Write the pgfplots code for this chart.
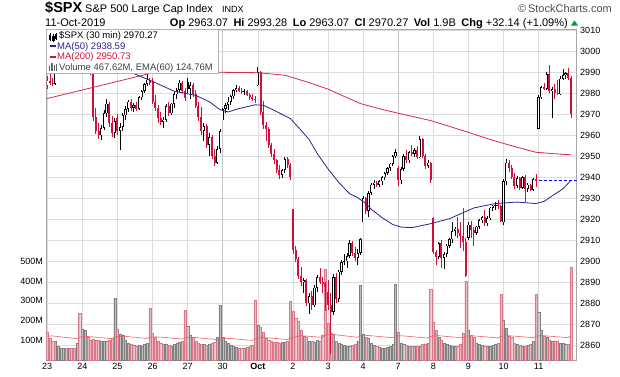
\documentclass[border=0pt]{standalone}
\usepackage{pgfplots}
\pgfplotsset{compat=1.18}
\usepackage{pgfplotstable}
\usepackage{fontspec}
\setmainfont{Liberation Sans}
\definecolor{cred}{RGB}{210,16,60}
\definecolor{navy}{RGB}{36,36,140}
\definecolor{mared}{RGB}{214,40,74}
\definecolor{vpink}{RGB}{238,182,190}
\definecolor{vpinkd}{RGB}{216,120,136}
\definecolor{vgray}{RGB}{190,190,190}
\definecolor{vgrayd}{RGB}{128,128,128}
\definecolor{gridc}{RGB}{221,221,221}
\definecolor{emac}{RGB}{242,96,96}
\definecolor{upgreen}{RGB}{0,150,60}

% bar index, open, high, low, close, volume (millions), red flag
\pgfplotstableread{
x o h l c v r
0 2983.5 2988.0 2982.2 2986.0 143 1
1 2986.0 2989.0 2984.0 2985.0 112 1
2 2985.0 2987.5 2983.5 2984.5 98 1
3 2984.5 2991.5 2984.0 2990.5 93 0
4 2990.5 2995.0 2990.0 2994.0 68 0
5 2994.0 2997.5 2993.0 2996.5 62 0
6 2996.5 2999.2 2995.5 2998.0 60 0
7 2998.0 2998.5 2994.5 2995.0 60 1
8 2995.0 2997.0 2993.0 2996.0 58 0
9 2996.0 2996.5 2992.5 2993.0 62 1
10 2993.0 2994.5 2991.0 2992.0 62 1
11 2992.0 2994.0 2990.5 2993.5 85 0
12 2993.5 2994.5 2990.8 2991.8 236 1
13 3002.4 3005.5 3000.0 3004.5 155 0
14 3004.5 3008.0 3002.0 3006.0 152 0
15 3006.0 3007.0 2996.0 2998.0 118 1
16 2998.0 3000.0 2988.5 2990.0 101 1
17 2990.0 2991.0 2967.0 2968.5 105 1
18 2968.5 2973.0 2960.5 2962.0 101 1
19 2962.0 2966.0 2958.0 2960.0 100 1
20 2960.0 2965.0 2957.7 2963.5 98 0
21 2963.5 2972.0 2962.5 2970.5 95 0
22 2970.5 2977.5 2968.5 2975.0 95 0
23 2975.0 2976.0 2964.0 2966.0 100 1
24 2966.0 2969.0 2959.0 2961.0 110 1
25 2961.0 2968.0 2958.5 2966.6 312 0
26 2968.4 2970.0 2960.0 2962.0 157 1
27 2962.0 2966.0 2952.9 2964.0 132 0
28 2964.0 2970.5 2962.0 2969.5 127 0
29 2969.5 2974.0 2967.5 2972.5 100 0
30 2972.5 2977.0 2971.0 2976.0 85 0
31 2976.0 2977.5 2971.5 2973.0 80 1
32 2973.0 2975.5 2971.0 2974.5 75 0
33 2974.5 2976.0 2971.5 2972.5 72 1
34 2972.5 2978.5 2972.0 2978.0 75 0
35 2978.0 2981.5 2977.0 2981.0 72 0
36 2981.0 2985.0 2980.0 2984.5 82 0
37 2984.5 2989.8 2983.5 2986.5 85 0
38 2986.5 2987.5 2983.8 2984.9 262 1
39 2985.7 2987.3 2975.0 2976.0 135 1
40 2976.0 2979.0 2971.5 2973.0 115 1
41 2973.0 2974.5 2966.0 2968.0 95 1
42 2968.0 2971.0 2965.0 2966.5 85 1
43 2966.5 2968.5 2963.7 2967.5 80 0
44 2967.5 2975.0 2966.5 2974.0 82 0
45 2974.0 2976.0 2969.0 2970.5 75 1
46 2970.5 2975.5 2969.5 2975.0 72 0
47 2975.0 2980.5 2973.0 2979.5 78 0
48 2979.5 2982.5 2977.5 2981.5 85 0
49 2981.5 2986.5 2980.5 2985.0 90 0
50 2985.0 2986.0 2980.0 2981.0 95 1
51 2981.0 2982.5 2976.5 2977.6 253 1
52 2985.5 2987.3 2980.0 2982.0 172 0
53 2982.0 2985.5 2977.5 2984.0 127 0
54 2984.0 2985.0 2978.0 2979.5 115 1
55 2979.5 2981.5 2973.0 2974.0 95 1
56 2974.0 2976.0 2967.0 2968.5 85 1
57 2968.5 2973.5 2960.0 2962.0 80 1
58 2962.0 2966.0 2957.5 2964.5 78 0
59 2964.5 2965.5 2954.0 2955.5 75 1
60 2955.5 2961.0 2950.0 2959.0 78 0
61 2959.0 2960.0 2948.5 2950.0 85 1
62 2950.0 2953.5 2945.5 2947.0 90 1
63 2947.0 2955.0 2946.5 2953.5 115 0
64 2953.5 2963.0 2951.5 2961.8 279 0
65 2967.1 2973.0 2967.1 2972.5 115 0
66 2972.5 2975.5 2970.5 2974.5 93 0
67 2974.5 2978.0 2972.0 2976.0 84 0
68 2976.0 2979.0 2974.5 2978.5 75 0
69 2978.5 2982.0 2977.5 2981.5 68 0
70 2981.5 2983.9 2980.5 2982.5 65 0
71 2982.5 2983.5 2980.5 2981.0 62 1
72 2981.0 2982.5 2979.5 2980.5 60 1
73 2980.5 2982.0 2979.0 2981.0 60 0
74 2981.0 2981.5 2978.5 2979.0 65 1
75 2979.0 2980.0 2977.0 2978.0 68 1
76 2978.0 2979.5 2976.5 2977.5 75 1
77 2977.5 2978.5 2975.5 2976.7 304 1
78 2983.7 2992.5 2983.5 2990.0 177 0
79 2990.0 2990.5 2969.5 2971.0 165 1
80 2971.0 2976.5 2963.0 2965.0 143 1
81 2965.0 2966.5 2957.5 2963.0 110 1
82 2963.0 2964.0 2954.0 2955.5 100 1
83 2955.5 2956.5 2949.5 2951.0 95 1
84 2951.0 2953.5 2946.5 2948.0 90 1
85 2948.0 2948.5 2942.0 2943.5 88 1
86 2943.5 2946.0 2939.0 2941.0 85 1
87 2941.0 2944.0 2939.5 2943.5 88 0
88 2943.5 2949.5 2942.0 2948.5 90 0
89 2948.5 2949.5 2944.5 2946.0 95 1
90 2946.0 2947.0 2938.7 2940.3 296 1
91 2924.8 2924.8 2903.5 2905.5 248 1
92 2905.5 2907.5 2899.5 2901.0 211 1
93 2901.0 2902.0 2891.5 2893.0 199 1
94 2893.0 2897.5 2888.0 2890.0 152 1
95 2890.0 2892.0 2885.0 2891.0 122 0
96 2891.0 2891.5 2878.5 2880.0 115 1
97 2880.0 2885.0 2874.9 2883.5 93 0
98 2883.5 2886.0 2877.0 2879.0 93 1
99 2879.0 2888.5 2878.0 2887.5 88 0
100 2887.5 2893.5 2885.5 2892.5 101 0
101 2892.5 2897.0 2889.0 2890.0 98 1
102 2890.0 2892.5 2885.0 2889.0 127 1
103 2889.0 2890.0 2876.5 2887.6 461 1
104 2885.4 2891.0 2877.0 2879.0 189 1
105 2879.0 2885.0 2855.9 2876.0 138 1
106 2876.0 2894.0 2874.5 2892.5 132 0
107 2892.5 2894.5 2880.0 2882.0 93 1
108 2882.0 2896.0 2880.5 2895.0 84 0
109 2895.0 2900.5 2893.5 2899.5 80 0
110 2899.5 2903.5 2898.0 2900.0 75 0
111 2900.0 2904.0 2897.0 2902.5 72 0
112 2902.5 2910.0 2901.5 2908.5 72 0
113 2908.5 2909.5 2902.5 2904.0 75 1
114 2904.0 2907.0 2900.0 2901.5 80 1
115 2901.5 2906.0 2898.0 2904.0 93 0
116 2904.0 2911.1 2903.0 2910.6 380 0
117 2918.6 2931.0 2918.6 2930.0 130 0
118 2930.0 2930.5 2922.5 2924.0 115 1
119 2924.0 2933.5 2921.0 2932.5 110 0
120 2932.5 2937.5 2931.5 2936.5 84 0
121 2936.5 2938.5 2934.5 2937.5 75 0
122 2937.5 2938.0 2935.5 2936.5 70 1
123 2936.5 2938.5 2935.5 2938.0 65 0
124 2938.0 2940.5 2936.5 2940.0 62 0
125 2940.0 2942.5 2938.5 2942.0 60 0
126 2942.0 2945.0 2941.0 2944.5 65 0
127 2944.5 2947.0 2943.0 2946.5 68 0
128 2946.5 2950.5 2945.5 2950.0 82 0
129 2950.0 2953.7 2949.0 2952.0 385 0
130 2944.2 2945.5 2935.7 2938.5 143 1
131 2938.5 2945.0 2937.0 2944.0 84 0
132 2944.0 2951.0 2943.0 2950.0 80 0
133 2950.0 2953.0 2947.0 2948.0 75 1
134 2948.0 2952.5 2947.0 2952.0 72 0
135 2952.0 2955.5 2950.0 2951.0 70 1
136 2951.0 2954.0 2949.5 2953.0 68 0
137 2953.0 2955.0 2948.5 2949.5 70 1
138 2949.5 2959.8 2949.0 2958.0 72 0
139 2958.0 2958.5 2949.0 2950.0 78 1
140 2950.0 2951.0 2944.0 2945.5 82 1
141 2945.5 2948.0 2944.5 2947.0 85 0
142 2947.0 2947.5 2937.5 2938.8 358 1
143 2920.4 2921.0 2903.5 2904.5 194 1
144 2904.5 2905.5 2898.0 2902.0 152 1
145 2902.0 2909.0 2901.0 2908.5 115 0
146 2908.5 2910.0 2897.0 2901.5 100 1
147 2901.5 2904.5 2896.5 2903.5 84 0
148 2903.5 2908.0 2902.0 2907.5 80 0
149 2907.5 2911.0 2906.5 2910.5 75 0
150 2910.5 2918.7 2908.5 2914.5 72 0
151 2914.5 2916.5 2912.0 2915.5 70 0
152 2915.5 2921.0 2911.0 2913.5 72 1
153 2913.5 2918.5 2906.5 2912.0 80 1
154 2912.0 2925.5 2905.0 2909.0 138 1
155 2909.0 2911.0 2892.7 2893.1 400 1
156 2911.1 2918.5 2910.0 2917.5 152 0
157 2917.5 2919.0 2911.0 2915.0 127 1
158 2915.0 2916.5 2907.4 2913.5 115 1
159 2913.5 2917.0 2912.5 2916.5 84 0
160 2916.5 2920.0 2915.5 2919.5 80 0
161 2919.5 2921.5 2918.0 2921.0 75 0
162 2921.0 2924.3 2917.0 2918.0 72 1
163 2918.0 2921.5 2917.0 2920.5 70 0
164 2920.5 2926.0 2919.5 2925.5 72 0
165 2925.5 2927.0 2924.0 2926.5 75 0
166 2926.5 2928.0 2924.5 2927.0 78 0
167 2927.0 2929.3 2925.0 2926.5 85 1
168 2926.5 2927.0 2918.5 2919.4 334 1
169 2918.6 2939.0 2917.1 2938.0 203 0
170 2938.0 2948.5 2936.5 2947.0 160 0
171 2947.0 2948.0 2942.5 2944.5 122 1
172 2944.5 2946.0 2939.0 2940.0 115 1
173 2940.0 2942.0 2934.5 2936.0 84 1
174 2936.0 2940.5 2935.0 2939.5 80 0
175 2939.5 2940.0 2933.8 2935.0 75 1
176 2935.0 2940.5 2934.5 2940.0 72 0
177 2940.0 2941.0 2928.3 2934.5 72 1
178 2934.5 2937.5 2933.0 2936.5 75 0
179 2936.5 2937.0 2933.5 2934.0 80 1
180 2934.0 2939.5 2933.5 2939.0 95 0
181 2939.0 2941.5 2935.5 2938.1 334 1
182 2963.1 2979.0 2963.1 2978.0 240 0
183 2978.0 2983.5 2977.5 2983.0 149 0
184 2983.0 2985.0 2981.5 2982.0 122 1
185 2982.0 2990.0 2981.5 2989.0 118 0
186 2989.0 2993.3 2980.0 2981.0 101 1
187 2981.0 2983.0 2968.0 2982.0 98 0
188 2982.0 2984.5 2977.5 2980.0 98 1
189 2980.0 2986.5 2979.0 2979.5 98 1
190 2979.5 2988.0 2979.0 2987.0 84 0
191 2987.0 2991.5 2986.5 2988.5 84 0
192 2988.5 2990.0 2987.0 2989.5 80 0
193 2989.5 2991.8 2986.5 2987.5 78 1
194 2987.5 2988.0 2968.0 2970.3 468 1
}\spx

\pgfplotstableread{
x y
-0.3 2996
10 2997
20 2995
28 2992
32 2989.4
38 2986.2
47 2981.0
55 2979.0
60 2976.0
64 2972.2
67 2971.1
71 2972.7
77 2974.5
80 2974.3
84 2971.9
90 2968.0
94 2962.4
97 2958.0
100 2951.3
104 2944.0
108 2937.5
112 2932.2
115 2930.3
118 2927.5
120 2924.8
124 2920.8
128 2917.5
131 2916.3
135 2916.0
142 2917.9
149 2920.3
158 2925.4
166 2927.5
174 2928.2
181 2927.5
184 2928.5
188 2932.0
191 2934.5
194 2938.6
}\mafifty

\pgfplotstableread{
x y
-0.3 2977.4
38 2989.4
50 2990.0
63 2990.0
78 2989.8
88 2988.6
96 2985.5
104 2982.0
110 2978.5
116 2975.1
124 2972.3
131 2970.2
142 2967.0
150 2963.8
156 2961.4
164 2958.0
172 2955.0
181 2951.9
188 2951.2
194 2950.7
}\matwohundred

\pgfplotstableread{
x y
0 121
2 122
11 108
12 115
13 118
15 119
24 108
25 114
26 119
28 121
37 109
38 114
39 116
41 117
50 106
51 111
52 114
54 115
63 103
64 109
65 110
67 110
76 99
77 106
78 111
80 114
89 104
90 110
91 115
94 123
102 115
103 126
104 128
106 129
115 115
116 124
117 125
119 124
128 113
129 122
130 123
132 122
141 111
142 119
143 122
145 123
154 112
155 121
156 122
158 122
167 112
168 119
169 122
171 123
180 113
181 120
182 123
184 123
193 113
194 124.8
}\emavol

\pgfplotsset{
  frame/.style={at={(46.5pt,16pt)}, anchor=south west, scale only axis,
    width=530.2pt, height=331pt, xmin=-0.26, xmax=196.1},
  candle/.style={draw=none, no markers, forget plot,
    error bars/y dir=plus, error bars/y explicit, error bars/error mark=none,
    error bars/error bar style={#1}},
}
\newcommand{\tf}{\fontsize{9}{10}\selectfont}
\newcommand{\lf}{\fontsize{9.5}{11}\selectfont}

\begin{document}
\begin{tikzpicture}
\useasboundingbox (0,0) rectangle (620pt,376pt);
% grid, frame and price/date ticks
\begin{axis}[frame, ymin=2853, ymax=3010.6,
  xtick={0,13,...,182},
  xticklabels={23,24,25,26,27,30,\textbf{Oct},2,3,4,7,8,9,10,11},
  ytick={2860,2870,...,3010},
  yticklabels={2860,2870,2880,2890,2900,2910,2920,2930,2940,2950,2960,2970,2980,2990,3000,3010},
  yticklabel pos=right,
  major tick length=0pt,
  tick label style={font=\tf, text=black},
  grid=major, major grid style={draw=gridc, line width=0.6pt},
  axis line style={draw=black!35, line width=0.6pt},
  extra x ticks={65,130}, extra x tick labels={},
  extra x tick style={grid=major, major grid style={draw=black!22, line width=0.8pt}},
]
\end{axis}
% volume
\begin{axis}[frame, ymin=0, ymax=1676,
  axis x line=none, axis y line*=left, y axis line style={draw=none},
  ytick={100,200,300,400,500}, yticklabels={100M,200M,300M,400M,500M},
  major tick length=0pt, tick label style={font=\tf, text=black}]
\addplot[ybar, bar width=2.1pt, bar shift=0pt, fill=vgray, draw=vgrayd, line width=0.3pt,
  restrict expr to domain={\thisrow{r}}{-0.5:0.5}] table[x=x, y=v] {\spx};
\addplot[ybar, bar width=2.1pt, bar shift=0pt, fill=vpink, draw=vpinkd, line width=0.3pt,
  restrict expr to domain={\thisrow{r}}{0.5:1.5}] table[x=x, y=v] {\spx};
\addplot[emac, line width=0.6pt, mark=none] table[x=x, y=y] {\emavol};
\end{axis}
% price
\begin{axis}[frame, ymin=2853, ymax=3010.6, hide axis]
% wicks
\addplot[restrict expr to domain={\thisrow{r}}{-0.5:0.5}, candle={line width=0.7pt, draw=black}]
  table[x=x, y=l, y error plus expr={\thisrow{h}-\thisrow{l}}] {\spx};
\addplot[restrict expr to domain={\thisrow{r}}{0.5:1.5}, candle={line width=0.7pt, draw=cred}]
  table[x=x, y=l, y error plus expr={\thisrow{h}-\thisrow{l}}] {\spx};
% filled bodies (close below open)
\addplot[restrict expr to domain={2*\thisrow{r}+((\thisrow{c})>(\thisrow{o}))}{-0.5:0.5}, candle={line width=2pt, draw=black}]
  table[x=x, y=c, y error plus expr={max(\thisrow{o}-\thisrow{c},0.45)}] {\spx};
\addplot[restrict expr to domain={2*\thisrow{r}+((\thisrow{c})>(\thisrow{o}))}{1.5:2.5}, candle={line width=2pt, draw=cred}]
  table[x=x, y=c, y error plus expr={max(\thisrow{o}-\thisrow{c},0.45)}] {\spx};
% hollow bodies (close above open)
\addplot[restrict expr to domain={2*\thisrow{r}+((\thisrow{c})>(\thisrow{o}))}{0.5:1.5}, candle={line width=2.3pt, draw=black}]
  table[x=x, y=o, y error plus expr={\thisrow{c}-\thisrow{o}}] {\spx};
\addplot[restrict expr to domain={2*\thisrow{r}+((\thisrow{c})>(\thisrow{o}))}{2.5:3.5}, candle={line width=2.3pt, draw=cred}]
  table[x=x, y=o, y error plus expr={\thisrow{c}-\thisrow{o}}] {\spx};
\addplot[restrict expr to domain={(\thisrow{c})>(\thisrow{o})}{0.5:1.5}, candle={line width=0.8pt, draw=white}]
  table[x=x, y expr={\thisrow{o}+0.33}, y error plus expr={max(\thisrow{c}-\thisrow{o}-0.66,0)}] {\spx};
% moving averages
\addplot[mared, line width=0.8pt, mark=none] table[x=x, y=y] {\matwohundred};
\addplot[navy, line width=0.8pt, mark=none] table[x=x, y=y] {\mafifty};
\addplot[blue, line width=0.9pt, dash pattern=on 3pt off 2pt, mark=none] coordinates {(182,2938.59) (196.1,2938.59)};
\end{axis}
% legend box
\fill[white] (46.5pt,303pt) rectangle (218pt,347pt);
\draw[black!30, line width=0.5pt] (46.5pt,303pt) rectangle (218pt,347pt);
% candle icon
\draw[black, line width=0.5pt] (50pt,335pt) -- (50pt,343pt);
\fill[black] (49.2pt,336.5pt) rectangle (50.8pt,341pt);
\draw[black, line width=0.5pt] (53pt,334pt) -- (53pt,342pt);
\draw[black, line width=0.5pt] (52.2pt,335.5pt) rectangle (53.8pt,340pt);
\draw[black, line width=0.5pt] (56pt,336pt) -- (56pt,343pt);
\fill[black] (55.2pt,337pt) rectangle (56.8pt,342pt);
\node[anchor=base west, inner sep=0pt] at (59pt,337.8pt) {\lf\$SPX (30 min) 2970.27};
\draw[navy, line width=1.6pt] (49.5pt,330pt) -- (56pt,330pt);
\node[anchor=base west, inner sep=0pt, text=navy] at (57pt,326.8pt) {\lf MA(50) 2938.59};
\draw[cred, line width=1.6pt] (49.5pt,319.3pt) -- (56pt,319.3pt);
\node[anchor=base west, inner sep=0pt, text=cred] at (57pt,316.1pt) {\lf MA(200) 2950.73};
% volume icon
\fill[black!60] (49pt,305.5pt) rectangle (50.4pt,310pt);
\fill[black!60] (51.3pt,305.5pt) rectangle (52.7pt,313pt);
\fill[black!60] (53.6pt,305.5pt) rectangle (55pt,311.5pt);
\fill[black!60] (55.9pt,305.5pt) rectangle (57.3pt,312.5pt);
\node[anchor=base west, inner sep=0pt, text=black!75] at (59pt,305.5pt) {\lf Volume 467.62M, EMA(60) 124.76M};
% header
\node[anchor=base west, inner sep=0pt] at (45pt,363pt) {\fontsize{14.5}{16}\selectfont\bfseries \$SPX};
\node[anchor=base west, inner sep=0pt] at (85pt,363pt) {\fontsize{11}{13}\selectfont S\&P 500 Large Cap Index};
\node[anchor=base west, inner sep=0pt] at (222pt,363pt) {\fontsize{9}{11}\selectfont INDX};
\node[anchor=base east, inner sep=0pt, text=black!70] at (612pt,363pt) {\fontsize{11}{13}\selectfont ©\,StockCharts.com};
\node[anchor=base west, inner sep=0pt] at (45pt,350pt) {\fontsize{11}{13}\selectfont 11-Oct-2019};
\node[anchor=base east, inner sep=0pt] at (568pt,350pt) {\fontsize{11}{13}\selectfont
  \textbf{Op} 2963.07\enspace \textbf{Hi} 2993.28\enspace \textbf{Lo} 2963.07\enspace
  \textbf{Cl} 2970.27\enspace \textbf{Vol} 1.9B\enspace \textbf{Chg} +32.14 (+1.09\%)};
\fill[upgreen] (571pt,350.5pt) -- (578pt,350.5pt) -- (574.5pt,355.5pt) -- cycle;
\end{tikzpicture}
\end{document}
